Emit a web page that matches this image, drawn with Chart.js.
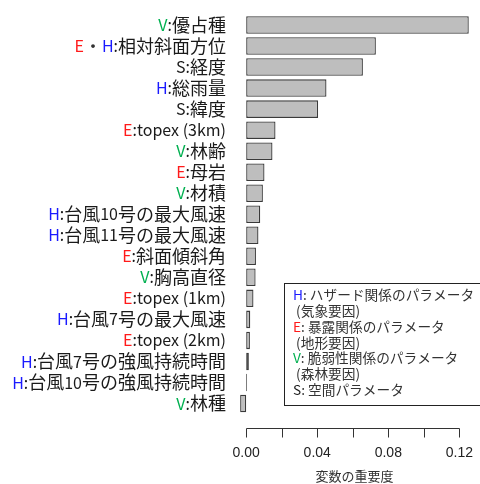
<!DOCTYPE html>
<html><head><meta charset="utf-8">
<script src="https://cdn.jsdelivr.net/npm/chart.js@4"></script>
<style>html,body{margin:0;padding:0;background:#fff}</style>
</head><body>
<canvas id="c" width="480" height="484"></canvas>
<script>
const groups = ['V','E・H','S','H','S','E','V','E','V','H','H','E','V','E','H','E','H','H','V'];
const names = ['優占種','相対斜面方位','経度','総雨量','緯度','topex (3km)','林齢','母岩','材積','台風10号の最大風速','台風11号の最大風速','斜面傾斜角','胸高直径','topex (1km)','台風7号の最大風速','topex (2km)','台風7号の強風持続時間','台風10号の強風持続時間','林種'];
const importance = [0.1253,0.0730,0.0657,0.0452,0.0405,0.0165,0.0148,0.0103,0.0094,0.0079,0.0069,0.0055,0.0053,0.0041,0.0023,0.0021,0.0015,0.0005,-0.0034];
const xTickValues = [0,0.02,0.04,0.06,0.08,0.10,0.12];
const xTickLabels = ['0.00','','0.04','','0.08','','0.12'];
const axisTitle = '変数の重要度';
const legendPrefixes = ['H','','E','','V','','S'];
const legendTexts = [': ハザード関係のパラメータ',' (気象要因)',': 暴露関係のパラメータ',' (地形要因)',': 脆弱性関係のパラメータ',' (森林要因)',': 空間パラメータ'];
const groupColors = {H:'#1a1aff', E:'#ff1a1a', V:'#00b050', S:'#1a1a1a'};

const categories = names.map((n,i)=>groups[i]+':'+n);
const cjkFont = "18px 'Noto Sans CJK JP', sans-serif";
const latinFont = "16px 'Noto Sans CJK JP', sans-serif";
const legendFont = "13.7px 'Noto Sans CJK JP', sans-serif";
const isCJK = ch => /[\u3000-\u9fff\uff00-\uffef]/.test(ch);

function splitRuns(text, color){
  const runs=[]; let cur=null;
  for (const ch of text){
    const f = isCJK(ch) ? cjkFont : latinFont;
    if (cur && cur.font===f) cur.text+=ch; else { cur={text:ch,font:f,color}; runs.push(cur); }
  }
  return runs;
}

const overlay = {
  id:'overlay',
  afterDraw(chart){
    const ctx = chart.ctx, ys = chart.scales.y, xs = chart.scales.x;
    ctx.save();
    ctx.textBaseline='middle'; ctx.textAlign='left';
    categories.forEach((c,i)=>{
      const y = ys.getPixelForTick(i);
      let runs = [];
      groups[i].split('・').forEach((g,k,arr)=>{
        runs = runs.concat(splitRuns(g, groupColors[g]));
        if (k<arr.length-1) runs = runs.concat(splitRuns('・','#333'));
      });
      runs = runs.concat(splitRuns(':'+names[i], '#1a1a1a'));
      let w = 0;
      runs.forEach(r=>{ctx.font=r.font; r.w=ctx.measureText(r.text).width; w+=r.w;});
      let x = 226 - w;
      runs.forEach(r=>{ctx.font=r.font; ctx.fillStyle=r.color; ctx.fillText(r.text,x,y); x+=r.w;});
    });
    // x axis line and ticks
    const ay = 428.5;
    ctx.strokeStyle='#333'; ctx.lineWidth=1;
    ctx.beginPath();
    ctx.moveTo(Math.round(xs.getPixelForValue(xTickValues[0]))+0.5, ay);
    ctx.lineTo(Math.round(xs.getPixelForValue(xTickValues[xTickValues.length-1]))+0.5, ay);
    xTickValues.forEach(v=>{const px=Math.round(xs.getPixelForValue(v))+0.5; ctx.moveTo(px,ay); ctx.lineTo(px,ay+9);});
    ctx.stroke();
    // legend
    const lx=284.5, ly=283.5, lw=210, lh=122;
    ctx.fillStyle='#fff'; ctx.fillRect(lx,ly,lw,lh);
    ctx.strokeStyle='#222'; ctx.strokeRect(lx,ly,lw,lh);
    ctx.font = legendFont; ctx.textBaseline='middle';
    legendTexts.forEach((t,i)=>{
      let x = 293, y = 295 + i*15.8;
      const p = legendPrefixes[i];
      if (p){ ctx.fillStyle=groupColors[p]; ctx.fillText(p,x,y); x+=ctx.measureText(p).width; }
      ctx.fillStyle='#333'; ctx.fillText(t,x,y);
    });
    ctx.restore();
  }
};

new Chart(document.getElementById('c'), {
  type:'bar',
  data:{labels:categories, datasets:[{data:importance, backgroundColor:'#bebebe', borderColor:'#3a3a3a', borderWidth:1.3, borderSkipped:false, categoryPercentage:1, barPercentage:0.833}]},
  options:{
    indexAxis:'y', responsive:false, animation:false, devicePixelRatio:1,
    layout:{padding:{top:14.5,right:2,left:0,bottom:0}},
    plugins:{legend:{display:false}, tooltip:{enabled:false}},
    scales:{
      y:{type:'category', grid:{display:false}, border:{display:false}, ticks:{display:false}, afterFit:s=>{s.width=231;}},
      x:{type:'linear', min:-0.00855, max:0.1305,
         grid:{display:false, drawTicks:false}, border:{display:false},
         afterBuildTicks:s=>{s.ticks = xTickValues.map(v=>({value:v}));},
         ticks:{autoSkip:false, maxRotation:0, padding:31, color:'#222', font:{size:14, family:"'Liberation Sans', Arial, sans-serif"}, callback:(v,i)=>xTickLabels[i]},
         title:{display:true, text:axisTitle, color:'#333', font:{size:13, family:"'Noto Sans CJK JP', sans-serif"}, padding:{top:0,bottom:0}},
         afterFit:s=>{s.height=70; s.paddingLeft=0; s.paddingRight=0;}
      }
    }
  },
  plugins:[overlay]
});
</script>
</body></html>
